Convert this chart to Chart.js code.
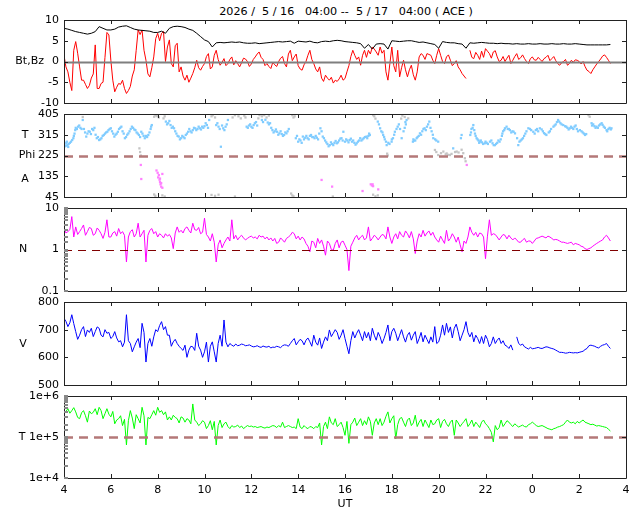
<!DOCTYPE html>
<html>
<head>
<meta charset="utf-8">
<script src="https://cdn.jsdelivr.net/npm/chart.js@4.4.1/dist/chart.umd.min.js"></script>
<style>
  body { margin: 0; background: #fff; }
  #wrap { position: relative; width: 640px; height: 512px; overflow: hidden; }
  canvas { position: absolute; left: 0; }
  #title { position: absolute; top: 5px; left: 0; width: 692px; text-align: center;
           font: 11.2px 'DejaVu Sans'; white-space: pre; color: #000; }
</style>
</head>
<body>
<div id="wrap">
  <div id="title">2026 /  5 / 16   04:00 --  5 / 17   04:00 ( ACE )</div>
  <canvas id="p1" width="640" height="107" style="top:8px"></canvas>
  <canvas id="p2" width="640" height="107" style="top:102px"></canvas>
  <canvas id="p3" width="640" height="107" style="top:196px"></canvas>
  <canvas id="p4" width="640" height="107" style="top:290px"></canvas>
  <canvas id="p5" width="640" height="128" style="top:384px"></canvas>
</div>
<script>
// 10-minute samples starting 5/16 04:00 UT (hours since 5/16 00:00);
// the *Mid arrays hold the samples 5 minutes after each of those
const sampleStart = 4;
const sampleStep = 10 / 60;

const xTicks = [4, 6, 8, 10, 12, 14, 16, 18, 20, 22, 24, 26, 28];

const bt = [8.0,7.8,7.5,7.2,7.0,6.8,6.6,6.8,7.2,8.4,8.0,7.6,7.6,
  7.8,8.3,8.5,8.6,8.2,7.8,7.6,7.5,7.4,7.3,7.0,7.0,
  7.3,6.8,8.0,8.4,8.5,8.4,8.2,7.8,7.5,6.8,6.0,5.2,
  4.8,3.5,4.5,4.6,4.5,4.6,4.7,4.6,4.7,4.5,4.4,4.4,
  4.5,4.3,4.4,4.5,4.6,4.7,4.8,4.7,4.8,4.9,4.4,4.9,
  4.8,4.7,4.9,4.6,4.5,4.8,4.9,4.8,5.0,5.1,5.0,4.8,
  4.7,4.6,4.5,4.3,3.2,4.1,3.0,4.2,4.3,4.2,3.0,5.0,
  4.9,4.8,4.9,5.0,5.0,4.8,4.6,4.7,4.5,4.3,4.1,3.2,
  4.8,4.6,4.5,4.5,4.3,4.2,3.2,4.5,4.4,4.5,4.6,4.5,
  4.4,4.4,4.3,4.4,4.3,4.3,4.2,4.3,4.2,4.2,4.3,4.2,
  4.2,4.3,4.2,4.2,4.3,4.2,4.2,4.3,4.2,4.2,4.3,4.2,
  4.1,4.0,4.0,4.0,4.0,4.0,4.0,4.1];

const bz = [1.5,-2.5,-7,4.8,-1.3,-4.5,-6.5,-4,4,-6.5,-5,7,0.3,
  -7.3,-5.3,-4.5,-7.7,-6,-2,7.6,7.6,0.3,-3.7,1.1,6.8,
  6.8,0,5.2,-1.3,4.4,-1.3,-4.5,-5,-2.9,0.3,-2.1,-0.5,
  1.9,-1.3,2.7,-0.9,0.7,-0.5,1.1,0.2,-1.3,0.8,0,-0.6,
  1.1,2.3,0.5,-0.5,-1.7,-0.8,0,1.2,-1.3,2.7,1.1,-1.0,
  -2.1,0,2.7,-0.5,-2.5,-4,-3.3,-4.5,-5.2,-4.8,-3.3,-4.1,
  -1.0,2.7,0.5,-0.9,2.7,2.7,3.5,2.3,3.5,2.7,-4.5,3.5,
  -2.5,-3.7,0.3,-3.7,-0.9,-4.5,1.1,1.5,1.9,1.5,-0.5,3.1,
  0,1.1,0.3,-0.5,-1.3,-2.9,-4.1,2.7,0.7,1.5,2.5,3.1,
  1.9,2.3,1.1,0.3,0,1.5,0.3,1.9,0.9,0.7,-0.5,1.1,
  0.3,0.5,0.7,1.5,0.7,0.2,-0.9,0,-0.9,0.3,0.4,0,
  0,-2.1,-2.9,-1.3,0,1.3,1.0,-0.5];
const bzMid = [-1.3,-5,2.7,2,-4.5,-5.5,-5.8,-3,-6.5,-5.3,
  1.0,6.4,-4.5,-6.2,-5.5,-6.5,-7,-3.5,2.7,6.5,
  2.7,-3,-1.5,5.5,5.0,7.2,3.5,-0.5,3.8,-2.5,
  -3.5,-3.3,-4,-1.5,-1.5,-1.2,1.2,-1.8,1.5,0.5,
  -0.2,-1.0,0.5,-0.8,-0.5,-0.3,0.6,-1.2,0.5,1.8,
  1.0,-1.0,-1.2,-0.2,-1.2,0.8,-0.5,1.8,0.2,1.8,
  -1.8,-0.8,1.5,0.5,-1.8,-1.3,-4.8,-4,-3.8,-4.5,
  -4.2,-4.5,-2.5,1.2,1.5,1.1,1.5,1.0,1.8,3.0,
  1.5,2.0,-2.5,-0.5,-1.0,2.7,-1.5,-2.0,-2.0,-3.2,
  -2.5,1.9,0.5,1.7,0.3,1.5,1.5,-0.5,1.6,-1.0,
  0.2,-2.0,-3.5,null,1.0,2.2,0.5,1.0,2.5,0.8,
  2.6,0.0,1.2,0.8,-0.5,1.2,0.5,1.6,0.0,0.7,
  0.4,1.0,0.0,1.0,0.2,1.2,-0.5,-0.3,0.5,-0.5,
  -0.2,0.3,-0.6,-1.2,-2.4,-2.0,-0.6,0.6,1.6,0.3];

const density = [3.2,2.7,6.2,3.5,2.7,3.9,2.7,3.2,2.4,2.9,1.85,5.2,2.0,
  2.7,3.2,2.7,0.5,2.7,2.0,4.3,2.4,0.5,2.9,2.4,2.0,
  2.2,2.4,2.3,1.05,3.5,2.9,3.2,2.9,4.3,2.9,2.4,5.7,
  2.0,2.4,0.5,1.7,1.4,2.0,5.2,2.2,2.0,1.9,1.85,2.1,
  2.0,2.2,2.1,2.0,1.9,1.85,1.5,1.7,1.85,2.2,2.4,2.1,
  2.0,1.4,0.88,1.5,1.85,1.7,0.73,1.4,0.96,1.7,1.5,1.27,
  0.31,1.5,2.2,2.0,1.7,3.5,1.85,2.0,2.0,2.2,3.5,1.4,
  2.4,2.7,2.0,2.4,2.7,0.8,2.4,2.9,2.5,2.2,2.0,1.5,
  1.7,2.9,1.85,2.0,2.0,0.88,1.4,3.5,2.2,2.0,2.4,0.6,
  5.2,2.4,2.0,2.0,2.2,2.2,1.7,1.7,1.5,1.85,1.6,1.4,
  1.85,2.0,2.0,2.1,1.85,1.75,1.6,1.5,1.4,1.5,1.4,1.3,
  1.16,1.0,1.1,1.3,1.5,1.7,2.2,1.6];
const densityMid = [2.5,3.0,2.0,2.3,3.2,2.2,3.4,2.2,3.3,2.4,
  2.6,2.0,2.5,2.1,2.4,2.2,2.0,3.0,2.4,2.0,
  2.9,2.2,3.2,2.7,2.4,1.9,2.1,1.9,2.5,2.6,
  2.5,3.5,2.5,3.0,3.4,2.6,2.3,1.6,1.5,1.3,
  1.1,1.7,1.6,1.8,1.7,2.2,1.7,2.0,1.9,1.8,
  2.0,1.8,1.7,1.6,1.4,1.9,1.5,2.0,2.6,1.8,
  1.7,1.8,1.2,1.6,1.1,1.4,1.2,1.6,1.0,1.4,
  1.1,1.6,1.0,1.2,1.9,1.7,2.2,1.9,1.6,2.2,
  1.7,2.3,1.8,2.0,2.0,1.8,2.2,2.8,1.9,1.8,
  1.6,2.0,2.1,2.8,2.6,1.7,2.1,1.4,1.6,2.4,
  1.5,1.3,1.6,2.0,2.6,2.6,2.5,2.0,2.1,2.2,
  2.3,1.7,2.3,1.8,1.9,1.9,1.5,1.7,1.5,1.6,
  1.6,1.9,2.1,1.9,2.0,1.7,1.7,1.5,1.45,1.45,
  1.3,1.35,1.2,1.05,1.05,1.2,1.4,1.6,2.0,1.9];

const speed = [741,711,754,693,680,711,699,705,693,705,674,687,668,
  693,656,638,754,650,638,668,723,583,668,674,693,
  729,711,680,656,650,632,644,626,638,687,626,620,
  583,656,583,680,735,638,644,648,644,646,643,641,
  639,638,641,637,634,636,638,642,644,650,668,656,
  660,662,656,680,644,632,674,699,687,690,680,668,
  613,693,687,680,693,690,705,662,674,668,717,693,
  687,680,674,680,662,693,668,656,665,674,711,656,
  717,723,710,705,693,680,729,674,656,668,675,680,
  638,674,662,650,644,632,626,674,644,638,630,631,
  634,633,635,637,632,626,618,617,616,617,617,618,
  622,632,644,640,634,644,650,632];
const speedMid = [730,725,722,665,700,675,690,675,710,680,
  700,690,675,670,660,655,660,620,655,635,
  690,650,640,700,715,700,680,640,665,640,
  625,600,640,625,640,600,655,640,620,650,
  640,655,650,640,642,648,642,645,638,642,
  636,638,640,637,640,635,645,640,660,645,
  665,645,670,640,655,670,655,660,675,700,
  665,700,640,660,670,700,660,670,660,680,
  690,650,690,660,705,660,700,655,690,680,
  650,690,680,650,655,650,680,680,690,670,
  720,660,700,690,690,680,650,650,665,650,
  650,670,660,640,645,null,650,648,634,636,
  632,636,632,638,634,630,622,618,615,618,
  616,616,620,628,642,642,636,640,646,640];

const temperature = [3.7e5,4.9e5,4.4e5,4.1e5,2.8e5,4.4e5,2.3e5,3.7e5,4.9e5,5.3e5,2.8e5,4.9e5,3.1e5,
  2.1e5,2.8e5,1.9e5,6.4e4,4.4e5,1.6e5,2.8e5,5.3e5,6.4e4,2.8e5,4.4e5,5.3e5,
  4.4e5,4.1e5,3.1e5,3.4e5,2.8e5,3.1e5,2.3e5,2.6e5,6.4e5,2.3e5,2.1e5,2.3e5,
  1.9e5,1.5e5,6.4e4,2.6e5,2.1e5,1.8e5,1.9e5,1.8e5,1.7e5,1.6e5,1.9e5,1.85e5,
  1.8e5,1.75e5,1.7e5,1.75e5,1.8e5,1.85e5,1.9e5,2.3e5,1.8e5,1.8e5,1.75e5,2.8e5,
  1.6e5,1.7e5,1.8e5,1.6e5,1.7e5,6.4e4,2.3e5,3.1e5,2.0e5,1.8e5,2.3e5,1.1e5,
  7.0e4,2.3e5,1.9e5,2.8e5,2.5e5,3.1e5,1.1e5,2.8e5,2.8e5,2.3e5,4.1e5,2.8e5,
  9.0e4,2.8e5,2.3e5,2.6e5,1.9e5,3.4e5,2.3e5,1.8e5,2.1e5,2.6e5,2.1e5,2.8e5,
  2.4e5,2.1e5,2.3e5,1.1e5,2.2e5,2.1e5,2.8e5,2.1e5,1.8e5,2.0e5,2.3e5,2.1e5,
  1.6e5,7.6e4,1.5e5,2.6e5,2.1e5,2.3e5,1.8e5,1.9e5,1.85e5,1.8e5,2.0e5,2.3e5,
  1.9e5,1.85e5,1.8e5,1.6e5,1.5e5,1.65e5,1.8e5,2.0e5,2.6e5,2.2e5,2.1e5,2.2e5,
  2.6e5,2.2e5,2.0e5,1.95e5,1.9e5,1.8e5,1.7e5,1.4e5];
const temperatureMid = [4.2e5,3.8e5,5.2e5,3.0e5,3.9e5,3.3e5,4.3e5,4.0e5,3.5e5,4.4e5,
  3.7e5,3.6e5,4.2e5,2.6e5,3.3e5,2.7e5,2.5e5,2.9e5,3.5e5,2.2e5,
  3.3e5,3.0e5,3.5e5,3.4e5,4.0e5,3.5e5,2.6e5,2.6e5,3.0e5,2.2e5,
  2.9e5,2.8e5,2.1e5,2.6e5,1.9e5,2.5e5,1.6e5,2.5e5,2.4e5,1.9e5,
  1.7e5,2.3e5,1.6e5,1.75e5,1.95e5,1.85e5,1.75e5,1.8e5,1.75e5,1.7e5,
  1.8e5,1.65e5,1.7e5,1.9e5,1.7e5,1.75e5,1.7e5,1.9e5,1.7e5,1.6e5,
  1.75e5,1.9e5,1.6e5,1.75e5,1.8e5,2.2e5,1.8e5,1.6e5,2.2e5,2.8e5,
  2.0e5,1.7e5,2.4e5,2.0e5,2.9e5,2.3e5,1.9e5,2.0e5,2.4e5,2.2e5,
  2.0e5,1.9e5,3.2e5,2.2e5,3.3e5,2.0e5,3.0e5,1.8e5,2.9e5,2.2e5,
  1.8e5,2.7e5,2.6e5,1.7e5,2.0e5,2.6e5,1.7e5,2.7e5,1.8e5,2.6e5,
  2.6e5,1.8e5,2.4e5,1.8e5,2.6e5,2.3e5,1.7e5,2.6e5,1.9e5,1.3e5,
  1.9e5,1.7e5,1.8e5,2.5e5,2.0e5,2.1e5,1.75e5,1.95e5,1.75e5,2.1e5,
  2.1e5,1.8e5,1.9e5,1.7e5,1.55e5,1.6e5,1.75e5,1.9e5,2.3e5,2.3e5,
  2.3e5,2.4e5,2.4e5,2.3e5,2.1e5,2.05e5,1.85e5,1.85e5,1.75e5,1.55e5];

// Phi angle samples [hour, degrees]
const phiBlue = [[4.0,270],[4.05,265],[4.1,280],[4.15,270],[4.2,275],[4.3,285],[4.4,300],[4.45,320],
  [4.5,345],[4.6,350],[4.7,345],[4.8,379],[4.85,340],[4.95,307],[5.0,320],[5.1,328],[5.2,340],
  [5.25,335],[5.35,315],[5.4,300],[5.5,292],[5.55,295],[5.65,310],[5.7,314],[5.8,325],[5.85,328],
  [5.95,340],[6.0,343],[6.1,320],[6.15,307],[6.25,320],[6.3,328],[6.4,345],[6.45,350],[6.55,320],
  [6.6,300],[6.7,315],[6.75,321],[6.85,340],[6.9,350],[7.0,338],[7.05,335],[7.15,320],[7.2,314],
  [7.3,328],[7.35,320],[7.45,300],[7.5,310],[7.6,314],[7.7,340],[7.75,357],[8.35,372],[8.45,365],
  [8.55,357],[8.65,350],[8.7,343],[8.8,320],[8.9,307],[9.0,300],[9.1,305],[9.2,314],[9.3,328],
  [9.4,330],[9.5,335],[9.6,343],[9.7,340],[9.8,343],[9.9,350],[10.0,352],[10.1,357],[10.2,379],
  [10.5,357],[10.6,350],[10.7,263],[10.8,343],[10.9,350],[11.0,379],[11.8,350],[11.9,355],[12.0,350],
  [12.1,357],[12.2,370],[12.45,379],[12.7,368],[12.8,365],[12.9,335],[13.0,330],[13.1,328],[13.2,321],
  [13.3,318],[13.4,314],[13.5,321],[13.6,340],[13.9,300],[14.0,285],[14.1,290],[14.2,307],[14.3,302],
  [14.4,300],[14.5,310],[14.55,314],[14.65,305],[14.7,300],[14.8,302],[14.9,320],[14.95,343],
  [15.05,307],[15.15,290],[15.25,275],[15.35,270],[15.45,275],[15.55,280],[15.65,278],[15.75,290],
  [15.85,300],[15.93,328],[16.0,285],[16.1,290],[16.2,292],[16.3,285],[16.4,280],[16.5,278],
  [16.6,290],[16.65,300],[16.75,295],[16.85,305],[16.92,307],[17.0,310],[17.06,314],[17.4,372],
  [17.5,343],[17.55,330],[17.63,314],[17.7,295],[17.78,270],[17.85,280],[17.99,285],[18.05,300],
  [18.13,328],[18.2,340],[18.3,360],[18.42,300],[18.5,330],[18.6,360],[18.63,379],[18.9,285],
  [18.95,290],[19.06,300],[19.15,310],[19.2,321],[19.3,330],[19.4,343],[19.5,350],[19.6,372],
  [19.7,330],[19.77,300],[19.9,290],[19.98,285],[20.62,256],[20.95,300],[20.98,314],[21.35,314],
  [21.4,340],[21.48,357],[21.55,320],[21.62,300],[21.7,290],[21.76,285],[21.85,282],[21.97,278],
  [22.05,280],[22.19,285],[22.3,278],[22.4,270],[22.5,280],[22.6,285],[22.7,310],[22.75,330],
  [22.83,343],[22.95,340],[23.04,335],[23.15,330],[23.26,321],[23.4,270],[23.45,285],[23.55,295],
  [23.6,300],[23.7,320],[23.83,343],[23.9,340],[24.04,328],[24.15,335],[24.32,343],[24.45,330],
  [24.6,314],[24.75,330],[24.9,350],[25.0,360],[25.1,379],[25.2,365],[25.32,357],[25.45,350],
  [25.6,343],[25.7,345],[25.8,350],[25.9,340],[26.03,335],[26.15,325],[26.25,314],[26.53,365],
  [26.6,360],[26.74,350],[26.85,355],[26.96,365],[27.05,350],[27.17,335],[27.25,340],[27.38,343],
  // second pass through the spread of the band
  [4.02,278],[4.08,268],[4.12,285],[4.18,262],[4.25,280],[4.35,292],[4.42,310],[4.48,335],
  [4.55,340],[4.65,355],[4.75,340],[4.9,325],[5.05,330],[5.15,318],[5.3,345],[5.45,305],
  [5.6,300],[5.75,320],[5.9,335],[6.05,330],[6.2,315],[6.35,340],[6.5,330],[6.65,305],
  [6.8,330],[6.95,345],[7.1,325],[7.25,305],[7.4,310],[7.55,305],[7.65,325],[7.72,350],
  [8.4,360],[8.5,375],[8.6,345],[8.75,330],[8.85,310],[8.95,295],[9.05,310],[9.15,300],
  [9.25,320],[9.35,340],[9.45,325],[9.55,345],[9.65,335],[9.75,350],[9.85,338],[9.95,345],
  [10.05,365],[10.15,345],[10.55,365],[10.65,340],[10.75,355],[10.85,335],[10.95,360],
  [11.85,345],[11.95,360],[12.05,345],[12.15,365],[12.25,355],[12.5,370],[12.6,380],[12.75,360],
  [12.85,345],[12.95,325],[13.05,338],[13.15,315],[13.25,330],[13.35,310],[13.45,325],[13.55,330],
  [13.95,310],[14.05,295],[14.15,280],[14.25,295],[14.35,310],[14.45,295],[14.6,305],[14.75,310],
  [14.85,295],[15.0,330],[15.1,300],[15.2,282],[15.3,265],[15.4,282],[15.5,270],[15.6,288],
  [15.7,282],[15.8,298],[15.9,290],[16.05,295],[16.15,282],[16.25,298],[16.35,290],[16.45,272],
  [16.55,285],[16.7,290],[16.8,300],[16.95,300],[17.03,320],[17.45,360],[17.6,325],[17.67,305],
  [17.75,285],[17.9,275],[18.0,295],[18.1,315],[18.25,350],[18.35,340],[18.55,345],[18.58,370],
  [18.92,295],[19.0,290],[19.1,305],[19.25,315],[19.35,340],[19.45,335],[19.55,360],[19.65,345],
  [19.75,315],[19.85,295],[21.38,325],[21.45,345],[21.52,335],[21.58,310],[21.66,295],[21.73,280],
  [21.8,290],[21.9,275],[22.0,285],[22.1,275],[22.25,290],[22.35,270],[22.45,275],[22.55,290],
  [22.65,295],[22.72,320],[22.8,335],[22.9,350],[23.0,340],[23.1,325],[23.2,328],[23.35,300],
  [23.5,290],[23.65,310],[23.75,330],[23.95,335],[24.1,320],[24.2,340],[24.25,330],[24.4,338],
  [24.5,322],[24.55,318],[24.7,325],[24.8,340],[24.95,355],[25.05,370],[25.15,372],[25.25,360],
  [25.4,352],[25.5,345],[25.55,338],[25.65,350],[25.75,340],[25.85,355],[25.95,330],[26.1,330],
  [26.2,320],[26.3,318],[26.55,355],[26.65,352],[26.7,345],[26.8,345],[26.9,360],[27.0,358],
  [27.1,345],[27.2,330],[27.3,345],[27.35,338]];

const phiGray = [[4.8,392],[7.85,393],[7.9,400],[7.95,398],[8.0,395],[8.05,390],[8.25,386],[8.3,395],
  [10.3,395],[10.35,400],[10.45,390],[11.2,390],[11.3,400],[11.45,395],[11.55,386],[11.7,398],
  [11.75,390],[12.3,386],[12.35,400],[12.45,395],[12.55,400],[12.65,390],[12.75,398],[13.75,400],
  [13.8,390],[13.85,395],[17.2,400],[17.25,395],[17.3,385],[18.4,385],[18.45,398],[18.55,392],
  [18.7,386],[26.4,400],[26.45,393],
  [7.22,256],[7.25,240],[7.28,225],[17.8,233],[17.83,225],[19.84,249],[19.9,240],[19.98,227],
  [20.1,235],[20.2,242],[20.3,230],[20.34,234],[20.4,228],[20.48,227],[20.55,232],[20.7,240],
  [20.77,242],[20.85,238],[20.98,250],[21.05,235],[21.12,213],[21.15,200],
  [7.85,56],[7.9,50],[8.2,52],[8.3,47],[10.3,54],[10.45,50],[10.6,55],[11.3,47],[13.7,60],
  [13.75,52],[13.8,48],[15.48,47],[17.2,55],[17.3,48],[17.4,52]];

const phiMagenta = [[7.28,184],[7.3,123],[7.95,160],[8.0,150],[8.02,130],[8.05,140],[8.08,120],
  [8.1,110],[8.12,100],[8.15,90],[8.2,85],[8.15,105],[8.1,125],[8.2,145],[15.0,119],[15.45,90],
  [16.75,71],[17.1,100],[17.15,95],[17.2,92],[17.18,100],[17.42,78],[21.2,184]];

// ---------------------------------------------------------------------

Chart.defaults.font.family = "'DejaVu Sans', sans-serif";
Chart.defaults.font.size = 11;
Chart.defaults.color = '#000';

function series(vals, mids) {
  const out = [];
  vals.forEach((v, i) => {
    out.push({ x: sampleStart + i * sampleStep, y: v });
    if (mids && i < mids.length) out.push({ x: sampleStart + (i + 0.5) * sampleStep, y: mids[i] });
  });
  return out;
}
const pairs = list => list.map(p => ({ x: p[0], y: p[1] }));
const isDecade = v => Math.abs(Math.log10(v) - Math.round(Math.log10(v))) < 1e-6;

const framePlugin = {
  id: 'frame',
  afterDatasetsDraw(chart, args, opts) {
    const ctx = chart.ctx;
    const a = chart.chartArea;
    const x = chart.scales.x, y = chart.scales.y;
    const L = Math.round(a.left), R = Math.round(a.right);
    const T = Math.round(a.top), B = Math.round(a.bottom);
    ctx.save();
    if (opts.ref) {
      const py = Math.round(y.getPixelForValue(opts.ref.value)) + 0.5;
      ctx.strokeStyle = opts.ref.color;
      ctx.lineWidth = opts.ref.width;
      ctx.setLineDash(opts.ref.dash || []);
      ctx.beginPath();
      ctx.moveTo(L, py);
      ctx.lineTo(R, py);
      ctx.stroke();
      ctx.setLineDash([]);
    }
    ctx.strokeStyle = '#222222';
    ctx.lineWidth = 1;
    ctx.beginPath();
    // frame
    ctx.moveTo(L + 0.5, T + 0.5);
    ctx.lineTo(R + 0.5, T + 0.5);
    ctx.lineTo(R + 0.5, B + 0.5);
    ctx.lineTo(L + 0.5, B + 0.5);
    ctx.closePath();
    // inward x ticks on top and bottom
    xTicks.forEach(v => {
      const px = Math.round(x.getPixelForValue(v)) + 0.5;
      ctx.moveTo(px, T); ctx.lineTo(px, T + 4);
      ctx.moveTo(px, B); ctx.lineTo(px, B - 4);
    });
    // inward y ticks on the right (and the left for linear panels)
    y.ticks.forEach(t => {
      if (opts.log && !isDecade(t.value)) return;
      const py = Math.round(y.getPixelForValue(t.value)) + 0.5;
      ctx.moveTo(R, py); ctx.lineTo(R - 4, py);
      if (!opts.log) { ctx.moveTo(L, py); ctx.lineTo(L + 4, py); }
    });
    ctx.stroke();
    // minor log ticks on the left
    if (opts.log) {
      ctx.strokeStyle = '#888888';
      ctx.lineWidth = 2;
      ctx.beginPath();
      y.ticks.forEach(t => {
        const py = Math.round(y.getPixelForValue(t.value));
        ctx.moveTo(L, py); ctx.lineTo(L + 4, py);
      });
      ctx.stroke();
    }
    // side labels
    ctx.fillStyle = '#000';
    ctx.font = "11px 'DejaVu Sans'";
    ctx.textBaseline = 'middle';
    (opts.labels || []).forEach(l => {
      ctx.textAlign = l.align || 'center';
      ctx.fillText(l.text, l.x, y.getPixelForValue(l.value));
    });
    ctx.restore();
  }
};

function makePanel(id, yScale, datasets, frame, last) {
  const xScale = {
    type: 'linear', min: 4, max: 28,
    grid: { display: false, drawTicks: false },
    border: { display: false },
    ticks: { display: !!last, stepSize: 2, autoSkip: false, padding: 6, maxRotation: 0,
             callback: v => String(v % 24) },
    title: { display: !!last, text: 'UT', padding: { top: 0, bottom: 1 } },
    afterFit: s => { s.height = last ? 34 : 0; }
  };
  yScale.grid = { display: false, drawTicks: false };
  yScale.border = { display: false };
  yScale.afterFit = s => { s.width = 64; };
  yScale.ticks = Object.assign({ padding: 5, autoSkip: false }, yScale.ticks || {});
  return new Chart(document.getElementById(id), {
    type: 'line',
    data: { datasets },
    options: {
      responsive: false,
      animation: false,
      events: [],
      layout: { padding: { left: 0, right: 14, top: 12, bottom: last ? 0 : 12 } },
      scales: { x: xScale, y: yScale },
      plugins: { legend: { display: false }, tooltip: { enabled: false }, frame }
    },
    plugins: [framePlugin]
  });
}

const lineSet = (vals, mids, color) => ({
  data: series(vals, mids), borderColor: color, borderWidth: 1,
  pointRadius: 0, tension: 0, spanGaps: false
});
const dotSet = (list, color) => ({
  data: pairs(list), showLine: false, pointRadius: 1.6, pointBorderWidth: 0,
  pointBackgroundColor: color, pointStyle: 'rect'
});

makePanel('p1',
  { type: 'linear', min: -10, max: 10, ticks: { stepSize: 5 } },
  [lineSet(bt, null, '#000000'), lineSet(bz, bzMid, '#ff0000')],
  { ref: { value: 0, color: '#7f7f7f', width: 2 },
    labels: [{ text: 'Bt,Bz', value: 0, x: 44, align: 'right' }] });

makePanel('p2',
  { type: 'linear', min: 45, max: 405, ticks: { stepSize: 90 } },
  [dotSet(phiGray, '#c4c4c4'), dotSet(phiMagenta, '#ff80ff'), dotSet(phiBlue, '#80ccff')],
  { ref: { value: 225, color: '#b47878', width: 2.5, dash: [9, 6] },
    labels: [{ text: 'T', value: 315, x: 25 }, { text: 'Phi', value: 225, x: 27 },
             { text: 'A', value: 123, x: 25 }] });

makePanel('p3',
  { type: 'logarithmic', min: 0.1, max: 10,
    ticks: { callback: v => isDecade(v) ? String(+v.toPrecision(1)) : '' } },
  [lineSet(density, densityMid, '#ff00ff')],
  { log: true, ref: { value: 1, color: '#800000', width: 1.2, dash: [8, 6] },
    labels: [{ text: 'N', value: 1, x: 23 }] });

makePanel('p4',
  { type: 'linear', min: 500, max: 800, ticks: { stepSize: 100 } },
  [lineSet(speed, speedMid, '#0000ff')],
  { labels: [{ text: 'V', value: 646, x: 23 }] });

makePanel('p5',
  { type: 'logarithmic', min: 1e4, max: 1e6,
    ticks: { callback: v => isDecade(v) ? Number(v).toExponential(0) : '' } },
  [lineSet(temperature, temperatureMid, '#00ff00')],
  { log: true, ref: { value: 1e5, color: '#b47878', width: 2.5, dash: [9, 6] },
    labels: [{ text: 'T', value: 1e5, x: 22 }] },
  true);
</script>
</body>
</html>
